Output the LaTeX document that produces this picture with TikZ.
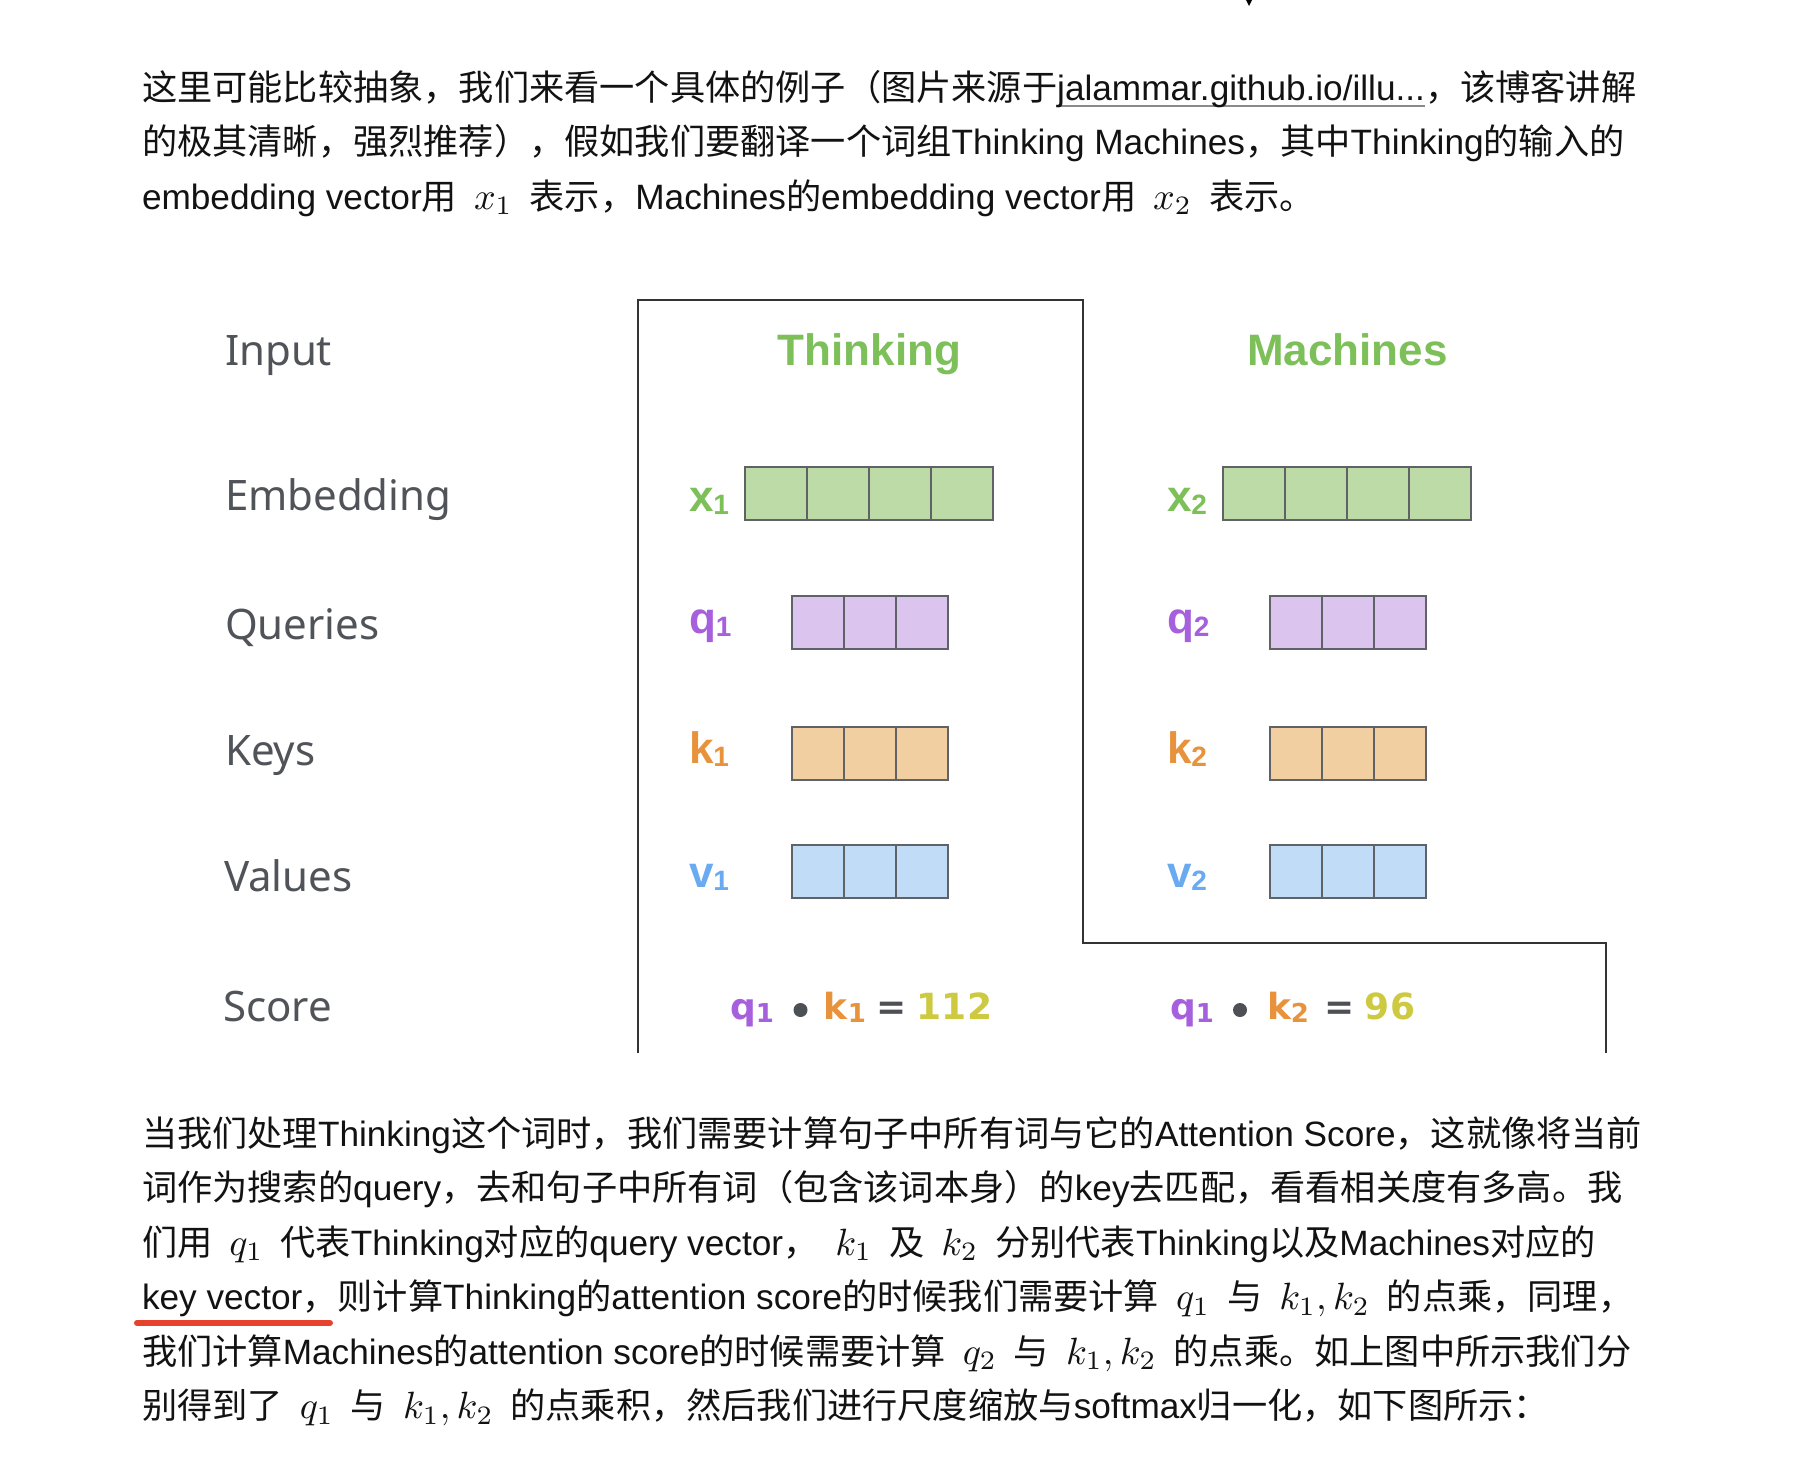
\documentclass[tikz,border=0pt]{standalone}
\usepackage{graphicx}
\usepackage[no-math]{fontspec}
\setmainfont{Noto Sans CJK SC}
\newfontfamily\lat{Liberation Sans}
\newfontfamily\lab{Noto Sans}
\newfontfamily\bsans{Liberation Sans}
\newfontfamily\dsans{DejaVu Sans}
\usetikzlibrary{calc}
\definecolor{txt}{HTML}{121212}
\definecolor{linkc}{HTML}{8A8A8A}
\definecolor{lgrey}{HTML}{505459}
\definecolor{framec}{HTML}{333333}
\definecolor{cellc}{HTML}{5F6368}
\definecolor{gfill}{HTML}{BDDBA6}
\definecolor{gtext}{HTML}{7DC05A}
\definecolor{pfill}{HTML}{DBC4EE}
\definecolor{ptext}{HTML}{A660DD}
\definecolor{ofill}{HTML}{F1CFA1}
\definecolor{otext}{HTML}{E8923C}
\definecolor{bfill}{HTML}{C0DCF6}
\definecolor{btext}{HTML}{6AAAF0}
\definecolor{ytext}{HTML}{CDC940}
\definecolor{dk}{HTML}{4D5156}
\definecolor{redline}{HTML}{E5432D}
\newcommand\ulink[1]{\setbox0\hbox{\lat #1}\rlap{\textcolor{linkc}{\rule[-7pt]{\wd0}{2pt}}}\box0}
\newcommand\mth[1]{\hspace{17pt}\scalebox{3.8}{\normalsize$#1$}\hspace{17pt}}
\newcommand\subs[2]{\raisebox{-3pt}{\fontsize{#1}{#1}\selectfont #2}}
\tikzset{
  every node/.style={inner sep=0pt, outer sep=0pt},
  para/.style={anchor=base west, text=txt, font=\fontsize{35.2}{54}\selectfont},
  rowlab/.style={anchor=base west, text=lgrey, font=\lab\fontsize{42}{50}\selectfont},
  word/.style={anchor=base, text=gtext, font=\bsans\bfseries\fontsize{44}{50}\selectfont},
  veclab/.style={anchor=base west, font=\bsans\bfseries\fontsize{44}{50}\selectfont},
  score/.style={anchor=base, font=\dsans\bfseries\fontsize{36}{40}\selectfont},
  dot/.style={circle, fill=dk, minimum size=14pt},
  cellbox/.style={draw=cellc, line width=2pt, minimum height=53pt, anchor=north west},
  cellline/.style={draw=cellc, line width=2pt},
  frame/.style={draw=framec, line width=2pt},
}
\begin{document}
\begin{tikzpicture}[x=1pt,y=-1pt]
\fill[white] (0,0) rectangle (1814,1476);
\useasboundingbox (0,0) rectangle (1814,1476);
\fill[black] (1246,0) -- (1252,0) -- (1249,6) -- cycle;

% top paragraph
\node[para] (t1) at (142,100) {这里可能比较抽象，我们来看一个具体的例子（图片来源于\ulink{jalammar.github.io/illu...}，该博客讲解};
\node[para] (t2) at (142,154.5) {的极其清晰，强烈推荐），假如我们要翻译一个词组{\lat Thinking Machines}，其中{\lat Thinking}的输入的};
\node[para] (t3) at (142,209) {{\lat embedding vector}用\mth{x_1}表示，{\lat Machines}的{\lat embedding vector}用\mth{x_2}表示。};

% frame
\draw[frame] (638,1053) -- (638,300) -- (1083,300) -- (1083,943) -- (1606,943) -- (1606,1053);

% row labels
\node[rowlab] (lin) at (225,365) {Input};
\node[rowlab] (lem) at (225,510) {Embedding};
\node[rowlab] (lqu) at (225,639) {Queries};
\node[rowlab] (lke) at (225,765) {Keys};
\node[rowlab] (lva) at (224,891) {Values};
\node[rowlab] (lsc) at (223,1021) {Score};

% words
\node[word] (w1) at (869.5,365) {Thinking};
\node[word] (w2) at (1347.5,365) {Machines};

% vectors, Thinking column
\node[cellbox, fill=gfill, minimum width=248pt] (x1) at (745,467) {};
\foreach \i in {1,2,3} \draw[cellline] ($(x1.north west)+(\i*62,0)$) -- ($(x1.south west)+(\i*62,0)$);
\node[cellbox, fill=pfill, minimum width=156pt] (q1) at (792,596) {};
\node[cellbox, fill=ofill, minimum width=156pt] (k1) at (792,727) {};
\node[cellbox, fill=bfill, minimum width=156pt] (v1) at (792,845) {};
\foreach \b in {q1,k1,v1} \foreach \i in {1,2} \draw[cellline] ($(\b.north west)+(\i*52,0)$) -- ($(\b.south west)+(\i*52,0)$);

% vectors, Machines column
\node[cellbox, fill=gfill, minimum width=248pt] (x2) at (1223,467) {};
\foreach \i in {1,2,3} \draw[cellline] ($(x2.north west)+(\i*62,0)$) -- ($(x2.south west)+(\i*62,0)$);
\node[cellbox, fill=pfill, minimum width=156pt] (q2) at (1270,596) {};
\node[cellbox, fill=ofill, minimum width=156pt] (k2) at (1270,727) {};
\node[cellbox, fill=bfill, minimum width=156pt] (v2) at (1270,845) {};
\foreach \b in {q2,k2,v2} \foreach \i in {1,2} \draw[cellline] ($(\b.north west)+(\i*52,0)$) -- ($(\b.south west)+(\i*52,0)$);

% vector labels
\node[veclab, text=gtext] (lx1) at (689,511) {x\subs{28}{1}};
\node[veclab, text=ptext] (lq1) at (689,633) {q\subs{28}{1}};
\node[veclab, text=otext] (lk1) at (689,763) {k\subs{28}{1}};
\node[veclab, text=btext] (lv1) at (689,887) {v\subs{28}{1}};
\node[veclab, text=gtext] (lx2) at (1167,511) {x\subs{28}{2}};
\node[veclab, text=ptext] (lq2) at (1167,633) {q\subs{28}{2}};
\node[veclab, text=otext] (lk2) at (1167,763) {k\subs{28}{2}};
\node[veclab, text=btext] (lv2) at (1167,887) {v\subs{28}{2}};

% scores
\node[score, text=ptext] (s1q) at (752,1019) {q\subs{26}{1}};
\node[dot] (s1d) at (800.5,1010) {};
\node[score, text=otext] (s1k) at (845,1019) {k\subs{26}{1}};
\node[score, text=dk] (s1e) at (891.5,1019) {=};
\node[score, text=ytext] (s1v) at (954.5,1019) {112};
\node[score, text=ptext] (s2q) at (1192,1019) {q\subs{26}{1}};
\node[dot] (s2d) at (1240,1010) {};
\node[score, text=otext] (s2k) at (1288,1019) {k\subs{26}{2}};
\node[score, text=dk] (s2e) at (1340,1019) {=};
\node[score, text=ytext] (s2v) at (1390,1019) {96};

% bottom paragraph
\node[para] (b1) at (142,1146) {当我们处理{\lat Thinking}这个词时，我们需要计算句子中所有词与它的{\lat Attention Score}，这就像将当前};
\node[para] (b2) at (142,1200.5) {词作为搜索的{\lat query}，去和句子中所有词（包含该词本身）的{\lat key}去匹配，看看相关度有多高。我};
\node[para] (b3) at (142,1255) {们用\mth{q_1}代表{\lat Thinking}对应的{\lat query vector}，\mth{k_1}及\mth{k_2}分别代表{\lat Thinking}以及{\lat Machines}对应的};
\node[para] (b4) at (142,1309.5) {{\lat key vector}，则计算{\lat Thinking}的{\lat attention score}的时候我们需要计算\mth{q_1}与\mth{k_1,k_2}的点乘，同理，};
\node[para] (b5) at (142,1364) {我们计算{\lat Machines}的{\lat attention score}的时候需要计算\mth{q_2}与\mth{k_1,k_2}的点乘。如上图中所示我们分};
\node[para] (b6) at (142,1418.5) {别得到了\mth{q_1}与\mth{k_1,k_2}的点乘积，然后我们进行尺度缩放与{\lat softmax}归一化，如下图所示：};
\draw[redline, line width=6pt, line cap=round] (137,1323) -- (330,1323);
\end{tikzpicture}
\end{document}
